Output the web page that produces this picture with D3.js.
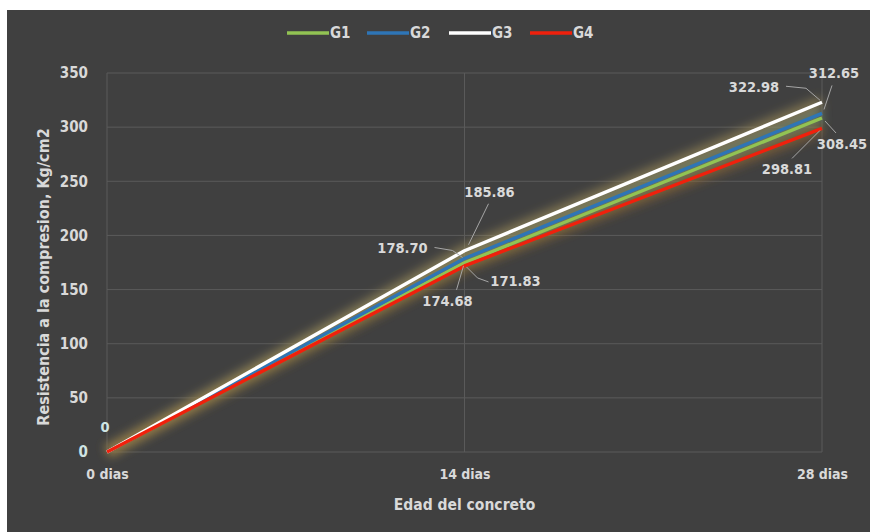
<!DOCTYPE html>
<html>
<head>
<meta charset="utf-8">
<script src="https://cdn.jsdelivr.net/npm/d3@7"></script>
<style>
  html, body { margin: 0; padding: 0; background: #ffffff; }
  svg { display: block; }
  text { font-family: "Liberation Sans Narrow", "DejaVu Sans Condensed", "Liberation Sans", sans-serif; font-weight: bold; }
</style>
</head>
<body>
<svg id="chart" width="870" height="532"></svg>
<script>
// Edad del concreto (categorías)
const categories = ["0 dias", "14 dias", "28 dias"];
const seriesNames = ["G1", "G2", "G3", "G4"];
// Resistencia a la compresión por grupo, Kg/cm2
const g1 = [0, 174.68, 308.45];
const g2 = [0, 178.70, 312.65];
const g3 = [0, 185.86, 322.98];
const g4 = [0, 171.83, 298.81];
const yTicks = [0, 50, 100, 150, 200, 250, 300, 350];

const seriesValues = [g1, g2, g3, g4];
const colors = ["#92c353", "#2e75b6", "#ffffff", "#f0200c"];

// Label placement: [dx, dy] of label centre from the point, and leader polyline offsets
const labelLayout = {
  G1: [null, { d: [-17, 38], lead: [[-8, 27], [-1, 3]] }, { d: [20, 26], lead: [[14, 15], [3, 3]] }],
  G2: [null, { d: [-62, -10], lead: [[-30, -11], [-12, -8], [-2, -1]] }, { d: [12, -40], lead: [[10, -28], [2, -4]] }],
  G3: [{ d: [-2, -25], lead: null }, { d: [25, -59], lead: [[24, -47], [4, -6]] }, { d: [-68, -15], lead: [[-36, -16], [-16, -14], [-2, -2]] }],
  G4: [null, { d: [51, 15], lead: [[24, 16], [13, 12], [2, 1]] }, { d: [-35, 41], lead: [[-30, 30], [-2, 2]] }]
};

const svg = d3.select("#chart");
const W = 870, H = 532;

// chart area background
svg.append("rect").attr("x", 0).attr("y", 0).attr("width", W).attr("height", H).attr("fill", "#ffffff");
svg.append("rect").attr("x", 7).attr("y", 10).attr("width", W - 7).attr("height", H - 10).attr("fill", "#404040");

const x = d3.scalePoint().domain(categories).range([107, 822]);
const y = d3.scaleLinear().domain([0, 350]).range([452, 73]);

const defs = svg.append("defs");
const glow = defs.append("filter").attr("id", "glow")
  .attr("x", "-20%").attr("y", "-20%").attr("width", "140%").attr("height", "140%");
glow.append("feGaussianBlur").attr("stdDeviation", 5);

// gridlines
const grid = svg.append("g");
grid.selectAll("line.h").data(yTicks).join("line")
  .attr("x1", x.range()[0]).attr("x2", x.range()[1])
  .attr("y1", d => y(d)).attr("y2", d => y(d))
  .attr("stroke", "#5a5a5a").attr("stroke-width", 1);
grid.selectAll("line.v").data(categories).join("line")
  .attr("x1", d => x(d)).attr("x2", d => x(d))
  .attr("y1", y(0)).attr("y2", y(350))
  .attr("stroke", "#5a5a5a").attr("stroke-width", 1);

// y axis
const yAxis = d3.axisLeft(y).tickValues(yTicks).tickSize(0).tickPadding(0);
const gy = svg.append("g").attr("transform", "translate(88,0)").call(yAxis);
gy.select(".domain").remove();
gy.selectAll("text").attr("fill", "#d9d9d9").attr("font-size", 15).attr("font-family", null);
gy.selectAll("text").filter(d => d === 0).attr("fill", "#cfe4e4");

// x axis
const xAxis = d3.axisBottom(x).tickSize(0).tickPadding(0);
const gx = svg.append("g").attr("transform", "translate(0,469)").call(xAxis);
gx.select(".domain").remove();
gx.selectAll("text").attr("fill", "#d9d9d9").attr("font-size", 14).attr("font-family", null);

// axis titles
svg.append("text").attr("x", x(categories[1])).attr("y", 510)
  .attr("text-anchor", "middle").attr("fill", "#d9d9d9").attr("font-size", 15.5)
  .text("Edad del concreto");
svg.append("text").attr("transform", "translate(49,277) rotate(-90)")
  .attr("text-anchor", "middle").attr("fill", "#d9d9d9").attr("font-size", 16)
  .text("Resistencia a la compresion, Kg/cm2");

// lines with soft glow underneath
const line = d3.line().x((d, i) => x(categories[i])).y(d => y(d));
const glowColors = ["#7f9a3a", "#5a7f8a", "#b09a5a", "#9a6a30"];
const glowG = svg.append("g").attr("filter", "url(#glow)");
seriesValues.forEach((vals, i) => {
  glowG.append("path").attr("d", line(vals)).attr("fill", "none")
    .attr("stroke", glowColors[i]).attr("stroke-opacity", 0.5).attr("stroke-width", 13)
    .attr("stroke-linejoin", "round");
});
seriesValues.forEach((vals, i) => {
  svg.append("path").attr("d", line(vals)).attr("fill", "none")
    .attr("stroke", colors[i]).attr("stroke-width", 3.4)
    .attr("stroke-linejoin", "round");
});

// data labels with leader lines
const labels = svg.append("g");
seriesValues.forEach((vals, i) => {
  const lay = labelLayout[seriesNames[i]];
  vals.forEach((v, j) => {
    const L = lay[j];
    if (!L) return;
    const px = x(categories[j]), py = y(v);
    if (L.lead) {
      labels.append("polyline")
        .attr("points", L.lead.map(p => [px + p[0], py + p[1]].join(",")).join(" "))
        .attr("fill", "none").attr("stroke", "#a6a6a6").attr("stroke-width", 1);
    }
    labels.append("text")
      .attr("x", px + L.d[0]).attr("y", py + L.d[1])
      .attr("text-anchor", "middle").attr("dominant-baseline", "central")
      .attr("fill", v === 0 ? "#cfe4e4" : "#d9d9d9").attr("font-size", 14.5)
      .text(v === 0 ? "0" : d3.format(".2f")(v));
  });
});

// legend
const legendX = [287, 367, 449, 530];
const legend = svg.append("g");
seriesNames.forEach((name, i) => {
  legend.append("line").attr("x1", legendX[i]).attr("x2", legendX[i] + 42)
    .attr("y1", 33).attr("y2", 33)
    .attr("stroke", colors[i]).attr("stroke-width", 3.5);
  legend.append("text").attr("x", legendX[i] + 43).attr("y", 33)
    .attr("dominant-baseline", "central").attr("fill", "#d9d9d9").attr("font-size", 15)
    .text(name);
});
</script>
</body>
</html>
